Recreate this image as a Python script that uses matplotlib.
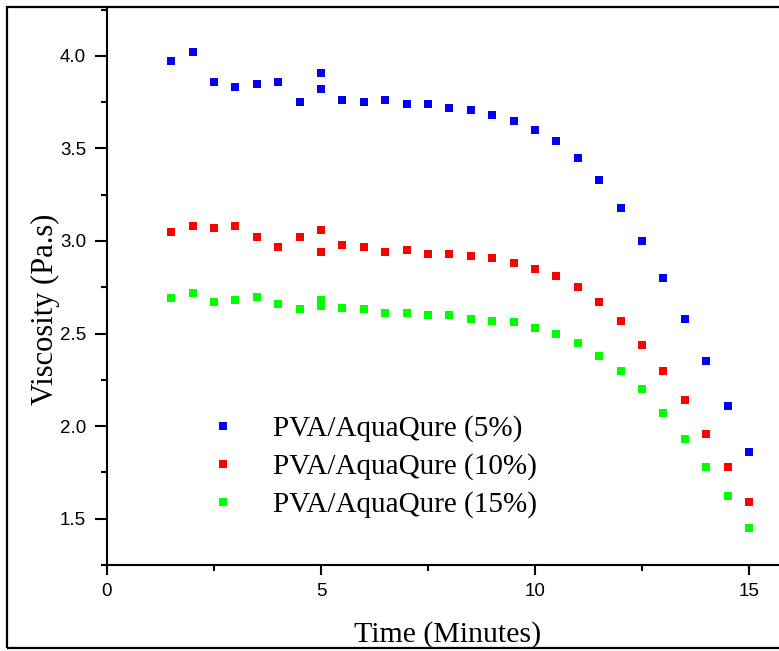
import matplotlib
matplotlib.use("Agg")
import matplotlib.pyplot as plt
from matplotlib.patches import Rectangle

# Sampling times (minutes); the 5-minute point was recorded twice
time_min = [1.5, 2.0, 2.5, 3.0, 3.5, 4.0, 4.5, 5.0, 5.0, 5.5, 6.0, 6.5, 7.0, 7.5,
            8.0, 8.5, 9.0, 9.5, 10.0, 10.5, 11.0, 11.5, 12.0, 12.5, 13.0, 13.5,
            14.0, 14.5, 15.0]

visc_5 = [3.97, 4.02, 3.86, 3.83, 3.85, 3.86, 3.75, 3.91, 3.82, 3.76, 3.75, 3.76,
          3.74, 3.74, 3.72, 3.71, 3.68, 3.65, 3.60, 3.54, 3.45, 3.33, 3.18, 3.00,
          2.80, 2.58, 2.35, 2.11, 1.86]

visc_10 = [3.05, 3.08, 3.07, 3.08, 3.02, 2.97, 3.02, 3.06, 2.94, 2.98, 2.97, 2.94,
           2.95, 2.93, 2.93, 2.92, 2.91, 2.88, 2.85, 2.81, 2.75, 2.67, 2.57, 2.44,
           2.30, 2.14, 1.96, 1.78, 1.59]

visc_15 = [2.69, 2.72, 2.67, 2.68, 2.70, 2.66, 2.63, 2.68, 2.65, 2.64, 2.63, 2.61,
           2.61, 2.60, 2.60, 2.58, 2.57, 2.56, 2.53, 2.50, 2.45, 2.38, 2.30, 2.20,
           2.07, 1.93, 1.78, 1.62, 1.45]

labels = ["PVA/AquaQure (5%)", "PVA/AquaQure (10%)", "PVA/AquaQure (15%)"]
colors = ["#0000FF", "#FF0000", "#00FF00"]

W, H = 779, 651
fig = plt.figure(figsize=(W / 100, H / 100), dpi=100)

# outer frame around the whole graphic
fig.patches.append(Rectangle((7 / W, 3 / H), 1.2, (H - 10) / H, transform=fig.transFigure,
                             fill=False, edgecolor="black", linewidth=1.6, zorder=0))

ax = fig.add_axes([107 / W, 86 / H, (W - 107) / W, (565 - 9) / H])
ax.set_xlim(0, (W - 107) / 42.8)
ax.set_ylim(1.252, 4.253)

for y, c, lab in zip([visc_5, visc_10, visc_15], colors, labels):
    ax.plot(time_min, y, linestyle="none", marker="s", markersize=6.3,
            color=c, markeredgewidth=0, label=lab)

ax.spines["top"].set_visible(False)
ax.spines["right"].set_visible(False)
for s in ("left", "bottom"):
    ax.spines[s].set_linewidth(1.5)

ax.set_xticks([0, 5, 10, 15])
ax.set_xticks([2.5, 7.5, 12.5], minor=True)
ax.set_yticks([1.5, 2.0, 2.5, 3.0, 3.5, 4.0])
ax.set_yticks([1.25, 1.75, 2.25, 2.75, 3.25, 3.75, 4.25], minor=True)
ax.set_yticklabels(["1.5", "2.0", "2.5", "3.0", "3.5", "4.0"])
ax.tick_params(which="major", direction="out", length=7, width=1.5,
               labelsize=13.5, pad=6)
ax.tick_params(axis="y", which="major", length=9, pad=6)
ax.tick_params(which="minor", direction="out", length=4.5, width=1.5)
for t in ax.get_xticklabels() + ax.get_yticklabels():
    t.set_family("Liberation Sans")

serif = "Liberation Serif"
ax.set_xlabel("Time (Minutes)", fontsize=21.5, family=serif, va="baseline")
ax.set_ylabel("Viscosity (Pa.s)", fontsize=22, family=serif)
ax.xaxis.set_label_coords((448 - 107) / (W - 107), -(642 - 565) / (565 - 9))
ax.yaxis.set_label_coords(-(107 - 60) / (W - 107), (565 - 309) / (565 - 9))

leg = ax.legend(loc="center left", bbox_to_anchor=(194 / W, 1 - 467 / H),
                bbox_transform=fig.transFigure, frameon=False, numpoints=1,
                prop={"family": serif, "size": 21}, borderpad=0, borderaxespad=0,
                handlelength=2.0, handletextpad=0.72, labelspacing=0.38)

fig.savefig("out.png", dpi=100)
